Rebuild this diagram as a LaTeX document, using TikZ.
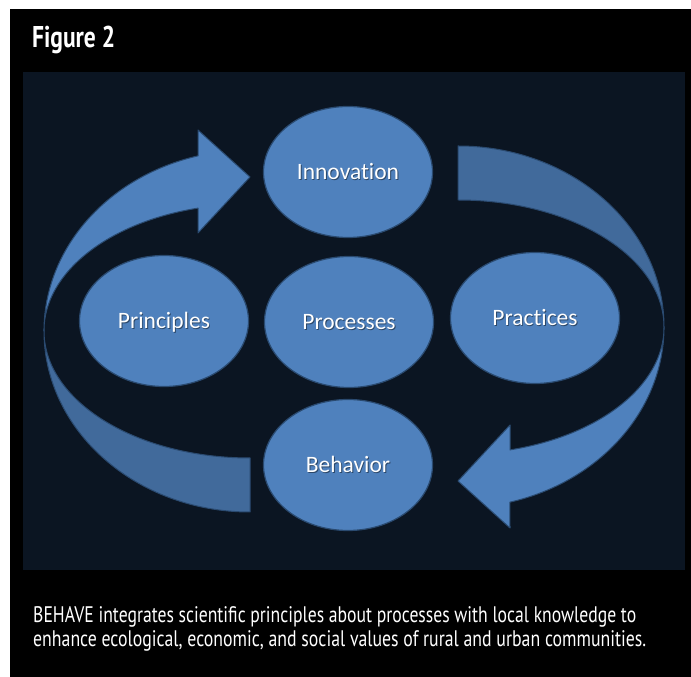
\documentclass[tikz,border=0pt]{standalone}
\usepackage{fontspec}
\usepackage{graphicx}
\usetikzlibrary{shapes.geometric}
\setmainfont{Carlito}[Ligatures={CommonOff}]
\newfontfamily\headfont{PT Sans}

\definecolor{panelnavy}{HTML}{0B1522}
\definecolor{shapeblue}{HTML}{4F81BD}
\definecolor{shapeback}{HTML}{416A9B}
\definecolor{shapeedge}{HTML}{2A4A70}
\colorlet{shadowblue}{shapeblue!55!black}

% white label with a small drop shadow
\newcommand{\liftedtext}[1]{%
  \makebox[0pt][l]{\kern0.9pt\raisebox{-1.3pt}{\textcolor{shadowblue}{#1}}}%
  \textcolor{white}{#1}}

% one curved band arrow: back half first, then the front half with its head
\newcommand{\bandarrow}{%
  \path[bandback] (44,346)
    arc[start angle=180, end angle=270, x radius=206pt, y radius=181pt]
    -- (250,219)
    arc[start angle=270, end angle=180, x radius=206pt, y radius=127pt]
    -- cycle;
  \path[bandfront] (44,346)
    arc[start angle=180, end angle=104.6, x radius=206pt, y radius=181pt]
    -- (198,547) -- (250,500) -- (198,444) -- (198,468.9)
    arc[start angle=104.6, end angle=180, x radius=206pt, y radius=127pt]
    -- cycle;
}

\tikzset{
  stage/.style={ellipse, draw=shapeedge, line width=1.2pt, fill=shapeblue,
    minimum width=169pt, minimum height=131pt, inner sep=0pt,
    text height=15.1pt, text depth=0pt,
    font=\fontsize{23.5pt}{26pt}\selectfont},
  bandfront/.style={fill=shapeblue, draw=shapeedge, line width=1pt, line join=round},
  bandback/.style={fill=shapeback, draw=shapeedge, line width=1pt, line join=round},
  caption/.style={anchor=base west, inner sep=0pt, text=white,
    font=\headfont\fontsize{22.5pt}{24pt}\selectfont},
}

\begin{document}
\begin{tikzpicture}[x=1pt, y=1pt]
  \useasboundingbox (0,0) rectangle (691,677);
  \fill[white] (0,0) rectangle (691,677);
  \fill[black] (10,0) rectangle (691,668);
  \fill[panelnavy] (23,107) rectangle (685,605);

  % heading
  \node[anchor=base west, inner sep=0pt, text=white,
        font=\headfont\bfseries\fontsize{30pt}{32pt}\selectfont]
    (title) at (32,629) {\resizebox{83pt}{\height}{Figure 2}};

  % the two curved arrows
  \bandarrow
  \begin{scope}[rotate around={180:(354,348)}]
    \bandarrow
  \end{scope}

  % the five stages
  \node[stage] (innovation) at (348,505) {\liftedtext{Innovation}};
  \node[stage] (principles) at (164,356) {\liftedtext{Principles}};
  \node[stage] (processes)  at (349,355) {\liftedtext{Processes}};
  \node[stage] (practices)  at (535,359) {\liftedtext{Practices}};
  \node[stage] (behavior)   at (348,212) {\liftedtext{Behavior}};

  % caption
  \node[caption] (capA) at (33,54)
    {\resizebox{603pt}{\height}{BEHAVE integrates scientific principles about processes with local knowledge to}};
  \node[caption] (capB) at (33,30)
    {\resizebox{613pt}{\height}{enhance ecological, economic, and social values of rural and urban communities.}};
\end{tikzpicture}
\end{document}
